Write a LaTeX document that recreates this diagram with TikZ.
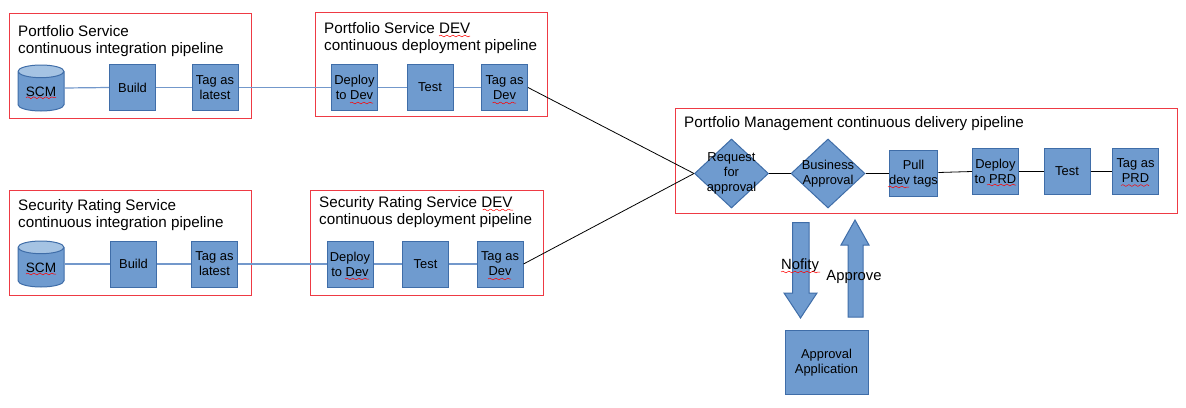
\documentclass[tikz,border=0pt]{standalone}
\usepackage{fontspec}
\setmainfont{Liberation Sans}
\usetikzlibrary{shapes.geometric,decorations.pathmorphing}
\definecolor{bluefill}{HTML}{6F9BCF}
\definecolor{blueedge}{HTML}{3F6DA8}
\definecolor{bluelight}{HTML}{A5C3E3}
\definecolor{blueline}{HTML}{7398CB}
\definecolor{redbox}{HTML}{EE3A44}
\tikzset{
  x=1pt,y=-1pt,
  pipebox/.style={draw=redbox,line width=1pt,fill=none},
  title/.style={anchor=west,align=left,inner sep=0pt,font=\fontsize{15.2}{17}\selectfont},
  block/.style={draw=blueedge,fill=bluefill,line width=1pt,minimum width=46pt,minimum height=46pt,inner sep=0pt,align=center,font=\fontsize{12.9}{15}\selectfont},
  decision/.style={draw=blueedge,fill=bluefill,line width=1pt,diamond,aspect=1.072,minimum width=74pt,minimum height=69pt,inner sep=0pt},
  decisiontext/.style={inner sep=0pt,align=center,font=\fontsize{12.9}{15}\selectfont},
  scm/.style={cylinder,shape border rotate=90,aspect=0.42,draw=blueedge,line width=1pt,cylinder uses custom fill,cylinder body fill=bluefill,cylinder end fill=bluelight,minimum width=46pt,minimum height=46pt,inner sep=0pt,anchor=shape center,font=\fontsize{13.6}{15}\selectfont},
  flow/.style={blueline,line width=1.2pt},
  link/.style={black,line width=0.8pt},
  bigarrow/.style={draw=blueedge,fill=bluefill,line width=1pt,line join=miter},
  squig/.style={draw=red,line width=0.5pt,decorate,decoration={snake,amplitude=0.9pt,segment length=6pt}},
  free/.style={inner sep=0pt,font=\fontsize{14.8}{16}\selectfont}
}
\begin{document}
\begin{tikzpicture}
\useasboundingbox (0,0) rectangle (1186,407);
% frames
\draw[pipebox] (9.5,13) rectangle (251,118);
\draw[pipebox] (315,12) rectangle (547.5,116);
\draw[pipebox] (9.5,190) rectangle (251,295);
\draw[pipebox] (310.5,190) rectangle (543,295);
\draw[pipebox] (675,108.5) rectangle (1177,213);
% titles
\node[title] (t1) at (18,41) {Portfolio Service\\continuous integration pipeline};
\node[title] (t2) at (324,38.5) {Portfolio Service DEV\\continuous deployment pipeline};
\node[title] (t3) at (18,215) {Security Rating Service\\continuous integration pipeline};
\node[title] (t4) at (319,212) {Security Rating Service DEV\\continuous deployment pipeline};
\node[title] (t5) at (684,124) {Portfolio Management continuous delivery pipeline};
% row 1
\node[scm] (scma) at (41,88) {SCM};
\node[block] (builda) at (132.5,87.5) {Build};
\node[block] (taga) at (215,87.5) {Tag as\\latest};
\node[block] (depa) at (354.5,87.5) {Deploy\\to Dev};
\node[block] (testa) at (430,87.5) {Test};
\node[block] (devtaga) at (504.5,87.5) {Tag as\\Dev};
% row 2
\node[scm] (scmb) at (41,264) {SCM};
\node[block] (buildb) at (133.5,264) {Build};
\node[block] (tagb) at (214.5,264) {Tag as\\latest};
\node[block] (depb) at (350,264) {Deploy\\to Dev};
\node[block] (testb) at (425.5,264) {Test};
\node[block] (devtagb) at (500,264) {Tag as\\Dev};
% delivery
\node[decision] (req) at (731.5,173.5) {};
\node[decisiontext] (reqtext) at (req.center) {Request\\for\\approval};
\node[decision] (biz) at (828,173.5) {};
\node[decisiontext] (biztext) at (biz.center) {Business\\Approval};
\node[block] (pull) at (913.5,173.5) {Pull\\dev tags};
\node[block] (depc) at (995.5,171) {Deploy\\to PRD};
\node[block] (testc) at (1067,171) {Test};
\node[block] (tagc) at (1135.5,171) {Tag as\\PRD};
\node[block,minimum width=83pt,minimum height=64.5pt] (app) at (826.5,362.5) {Approval\\Application};
% connectors
\draw[flow] (scma.shape center -| scma.east) -- (builda.west);
\draw[flow] (builda.east) -- (taga.west);
\draw[flow] (taga.east) -- (depa.west);
\draw[flow] (depa.east) -- (testa.west);
\draw[flow] (testa.east) -- (devtaga.west);
\draw[flow] (scmb.shape center -| scmb.east) -- (buildb.west);
\draw[flow] (buildb.east) -- (tagb.west);
\draw[flow] (tagb.east) -- (depb.west);
\draw[flow] (depb.east) -- (testb.west);
\draw[flow] (testb.east) -- (devtagb.west);
\draw[link] (devtaga.east) -- (req.west);
\draw[link] (devtagb.east) -- (req.west);
\draw[link] (req.east) -- (biz.west);
\draw[link] (biz.east) -- (pull.west);
\draw[link] ([yshift=1pt]pull.east) -- ([yshift=-0.5pt]depc.west);
\draw[link] (depc.east) -- (testc.west);
\draw[link] (testc.east) -- (tagc.west);
% arrows
\draw[bigarrow] (792.5,222.5) -- (809,222.5) -- (809,293) -- (817,293) -- (800.5,318) -- (784,293) -- (792.5,293) -- cycle;
\draw[bigarrow] (848,317) -- (863,317) -- (863,245) -- (869,245) -- (855,220) -- (841,245) -- (848,245) -- cycle;
\node[free] (nofity) at (800,266) {Nofity};
\node[free] (approve) at (854,277) {Approve};
% spelling marks
\draw[squig] (26,97.7) -- (56,97.7);
\draw[squig] (439,36) -- (470,36);
\draw[squig] (350,103) -- (373,103);
\draw[squig] (492.5,103) -- (516,103);
\draw[squig] (26,274) -- (56,274);
\draw[squig] (482.7,210) -- (513,210);
\draw[squig] (345,279) -- (369,279);
\draw[squig] (488,279) -- (511,279);
\draw[squig] (888,187) -- (909,187);
\draw[squig] (987,185) -- (1016,185);
\draw[squig] (1121,185.5) -- (1149,185.5);
\draw[squig] (781,272) -- (820,272);
\end{tikzpicture}
\end{document}
